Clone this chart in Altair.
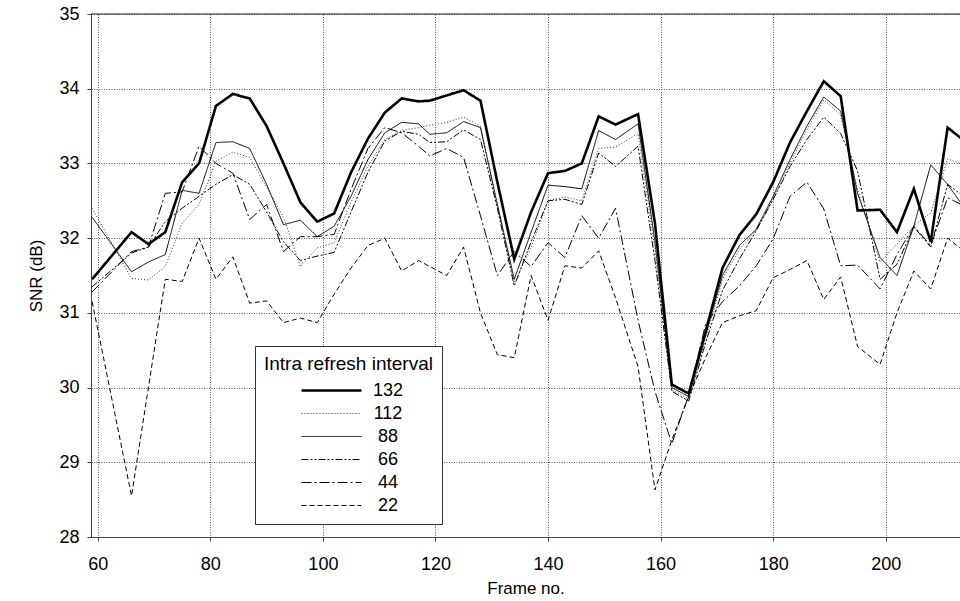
import altair as alt
import pandas as pd

# ---- data ----
frames = [59, 66, 69, 72, 75, 78, 81, 84, 87, 90,
          93, 96, 99, 102, 105, 108, 111, 114, 117, 119,
          122, 125, 128, 131, 134, 137, 140, 143, 146, 149,
          152, 156, 159, 162, 165, 168, 171, 174, 177, 180,
          183, 186, 189, 192, 195, 199, 202, 205, 208, 211,
          214]

snr_132 = [31.45, 32.08, 31.92, 32.08, 32.75, 33.0, 33.77, 33.93, 33.87, 33.5,
           33.0, 32.48, 32.22, 32.33, 32.88, 33.33, 33.68, 33.87, 33.83, 33.84,
           33.91, 33.98, 33.84, 32.75, 31.72, 32.35, 32.87, 32.9, 33.0, 33.63,
           33.52, 33.66, 32.2, 30.04, 29.92, 30.75, 31.6, 32.04, 32.32, 32.75,
           33.28, 33.7, 34.1, 33.9, 32.37, 32.38, 32.08, 32.66, 31.95, 33.48,
           33.3]
snr_112 = [32.4, 31.46, 31.44, 31.62, 32.2, 32.45, 33.03, 33.15, 33.08, 32.68,
           32.28, 31.62, 31.87, 31.94, 32.48, 32.96, 33.32, 33.44, 33.48, 33.51,
           33.55, 33.62, 33.5, 32.45, 31.4, 31.88, 32.5, 32.55, 32.5, 33.2,
           33.22, 33.4, 31.85, 29.97, 29.85, 30.65, 31.45, 31.85, 32.1, 32.52,
           33.0, 33.45, 33.85, 33.65, 32.65, 31.68, 31.92, 32.17, 32.34, 33.06,
           32.98]
snr_88 = [32.28, 31.55, 31.68, 31.78, 32.64, 32.6, 33.28, 33.29, 33.2, 32.72,
          32.18, 32.24, 32.02, 32.16, 32.56, 33.05, 33.41, 33.55, 33.53, 33.39,
          33.41, 33.56, 33.48, 32.45, 31.45, 32.08, 32.71, 32.69, 32.66, 33.44,
          33.32, 33.53, 31.95, 30.0, 29.88, 30.7, 31.5, 31.9, 32.12, 32.56,
          33.05, 33.5, 33.89, 33.7, 32.6, 31.74, 31.5, 32.16, 32.98, 32.72,
          32.4]
snr_66 = [31.35, 31.8, 31.88, 32.22, 32.4, 32.56, 32.72, 32.85, 32.72, 32.35,
          31.95, 31.7, 31.76, 31.81, 32.35, 32.88, 33.3, 33.43, 33.39, 33.28,
          33.29, 33.45, 33.32, 32.4, 31.36, 31.95, 32.5, 32.52, 32.45, 33.14,
          32.96, 33.23, 31.7, 29.95, 29.82, 30.6, 31.3, 31.72, 32.1, 32.52,
          32.96, 33.32, 33.62, 33.4, 32.9, 31.45, 31.65, 32.15, 31.88, 32.72,
          32.55]
snr_44 = [31.28, 31.82, 31.88, 32.6, 32.62, 33.23, 33.0, 32.87, 32.25, 32.45,
          31.82, 32.02, 32.02, 32.05, 32.65, 33.2, 33.48, 33.41, 33.23, 33.1,
          33.2, 33.08, 32.3, 31.5, 31.82, 31.62, 31.94, 31.74, 32.3, 32.0,
          32.4, 30.9, 29.95, 29.25, 29.9, 30.85, 31.15, 31.36, 31.63, 31.99,
          32.56, 32.75, 32.39, 31.63, 31.64, 31.32, 31.78, 32.16, 31.9, 32.54,
          32.43]
snr_22 = [31.15, 28.55, 30.0, 31.45, 31.42, 32.0, 31.45, 31.75, 31.13, 31.16,
          30.87, 30.93, 30.87, 31.25, 31.6, 31.9, 32.0, 31.56, 31.7, 31.62,
          31.5, 31.88, 31.0, 30.44, 30.4, 31.5, 30.9, 31.63, 31.6, 31.83,
          31.2, 30.28, 28.63, 29.3, 29.88, 30.4, 30.87, 30.96, 31.03, 31.47,
          31.58, 31.7, 31.18, 31.48, 30.55, 30.31, 31.0, 31.56, 31.32, 32.0,
          31.82]

intervals = ["132", "112", "88", "66", "44", "22"]
series = [snr_132, snr_112, snr_88, snr_66, snr_44, snr_22]

x_ticks = [60, 80, 100, 120, 140, 160, 180, 200]
y_ticks = [28, 29, 30, 31, 32, 33, 34, 35]

rows = []
for name, vals in zip(intervals, series):
    for f, v in zip(frames, vals):
        rows.append({"interval": name, "frame": f, "snr": v})
df = pd.DataFrame(rows)

# ---- styling ----
FONT = "Liberation Sans"
W, H = 869, 523
dashes = [[1, 0], [1, 2], [1, 0], [7, 2, 2, 2, 2, 2], [10, 3, 2, 3], [5, 3]]
widths = [2.6, 1.0, 1.0, 1.0, 1.0, 1.0]
colors = ["#000000", "#333333", "#000000", "#000000", "#000000", "#000000"]

leg = dict(
    title="Intra refresh interval",
    orient="none", legendX=164, legendY=332,
    symbolType="M-3,0H3", symbolSize=400,
    symbolOffset=56, labelOffset=45, labelAlign="center",
    labelFont=FONT, labelFontSize=18, labelColor="black",
    titleFont=FONT, titleFontSize=19, titleFontWeight="normal", titleColor="black",
    titlePadding=5, rowPadding=3, padding=9,
    strokeColor="#333333", fillColor="white",
)

lines = alt.Chart(df).mark_line(clip=True).encode(
    x=alt.X("frame:Q",
            scale=alt.Scale(domain=[58.8, 213.2], nice=False, zero=False),
            axis=alt.Axis(values=x_ticks, title="Frame no.", labelPadding=14,
                          titlePadding=7, format="d")),
    y=alt.Y("snr:Q",
            scale=alt.Scale(domain=[28, 35], nice=False, zero=False),
            axis=alt.Axis(values=y_ticks, title="SNR (dB)", labelPadding=8,
                          titlePadding=13, format="d")),
    strokeDash=alt.StrokeDash("interval:N",
                              scale=alt.Scale(domain=intervals, range=dashes),
                              legend=alt.Legend(**leg)),
    strokeWidth=alt.StrokeWidth("interval:N",
                                scale=alt.Scale(type="ordinal", domain=intervals, range=widths),
                                legend=alt.Legend(**leg)),
    color=alt.Color("interval:N",
                    scale=alt.Scale(domain=intervals, range=colors),
                    legend=alt.Legend(**leg)),
    order=alt.Order("frame:Q"),
)

border = alt.Chart(pd.DataFrame({"a": [0]})).mark_rule(
    color="#222222", strokeWidth=1
).encode(x=alt.value(0), x2=alt.value(W), y=alt.value(0))

chart = alt.layer(lines, border).properties(
    width=W, height=H,
    padding={"left": 91, "top": 14, "right": 0, "bottom": 64},
    autosize=alt.AutoSizeParams(type="none"),
).configure_view(stroke=None).configure_axis(
    labelFont=FONT, labelFontSize=18, labelColor="black",
    titleFont=FONT, titleFontSize=17, titleFontWeight="normal", titleColor="black",
    gridColor="#555555", gridDash=[1, 1.5], gridWidth=1,
    domainColor="#444444", tickColor="#444444", tickSize=4,
)

chart.save("out.html", embed_options={"renderer": "svg", "actions": False})
